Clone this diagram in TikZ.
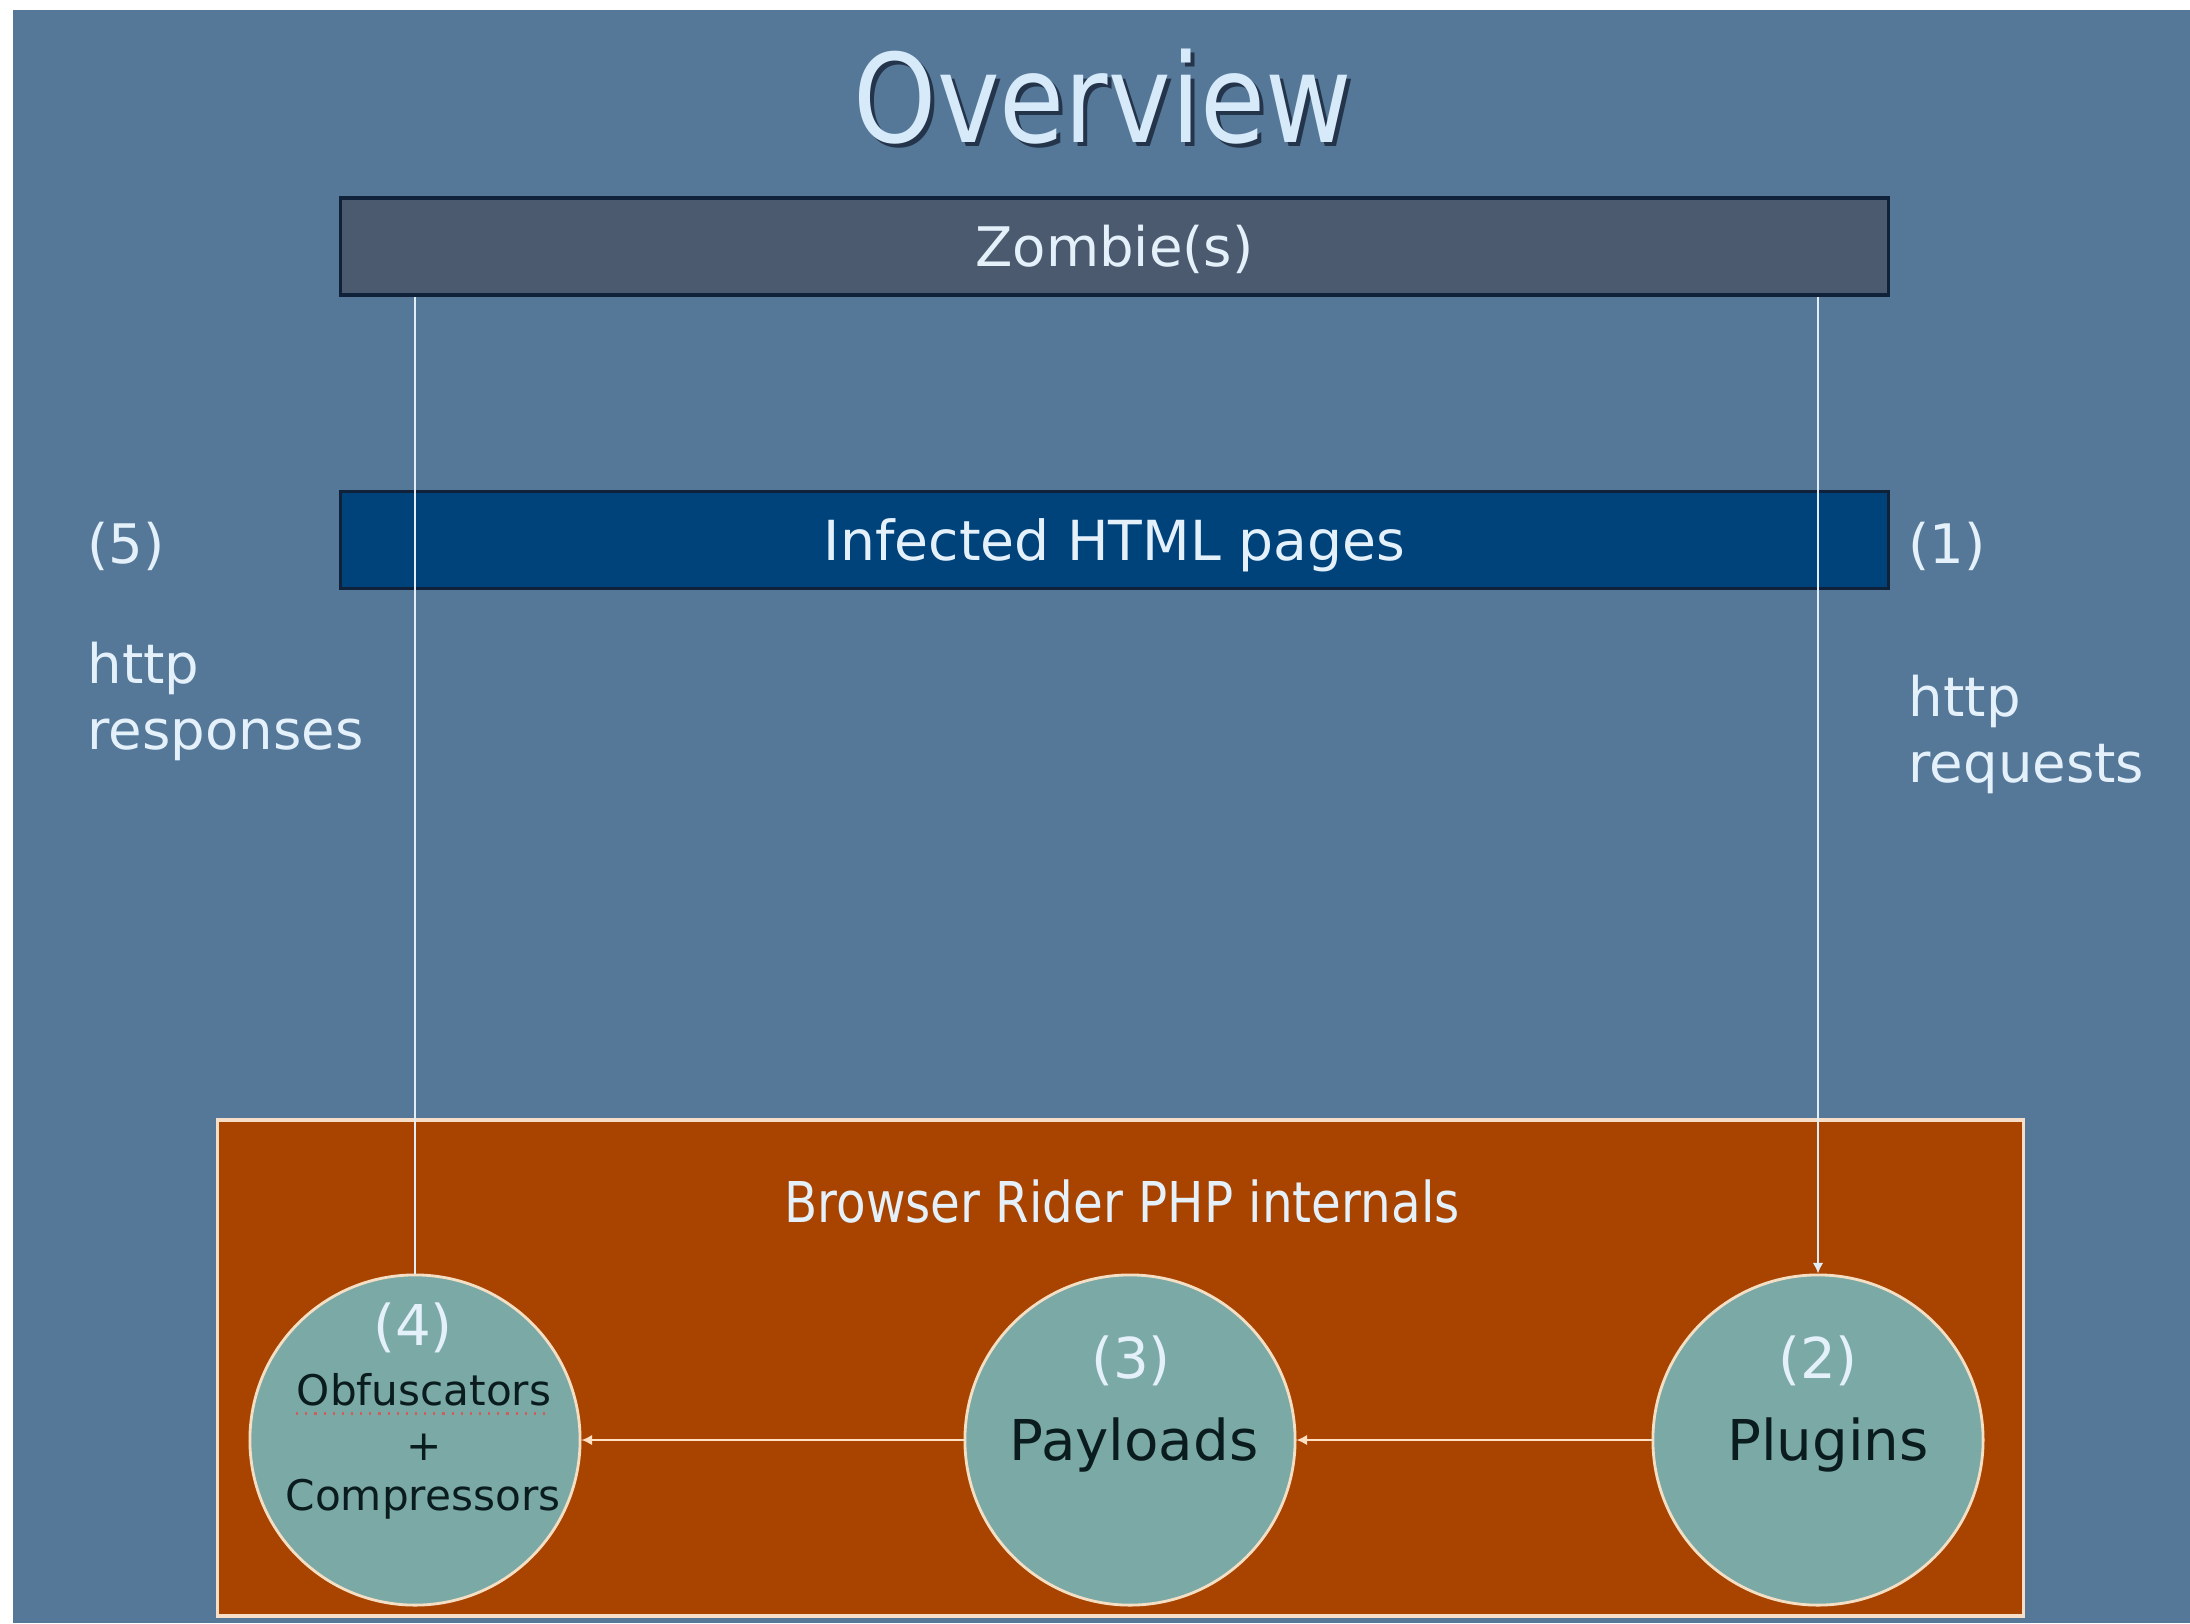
\documentclass[tikz,border=0pt]{standalone}
\usepackage{fontspec}
\setmainfont{DejaVu Sans}
\newfontfamily\narrowfont[FakeStretch=0.86]{DejaVu Sans}
\usetikzlibrary{arrows.meta}
\definecolor{SlideBlue}{RGB}{85, 120, 153}
\definecolor{ZombieGrey}{RGB}{75, 90, 111}
\definecolor{PageBlue}{RGB}{0, 66, 122}
\definecolor{BarEdge}{RGB}{16, 34, 58}
\definecolor{RiderOrange}{RGB}{169, 68, 0}
\definecolor{RiderEdge}{RGB}{246, 222, 200}
\definecolor{StageTeal}{RGB}{123, 169, 165}
\definecolor{StageEdge}{RGB}{244, 222, 196}
\definecolor{LabelWhite}{RGB}{228, 240, 250}
\definecolor{TitleWhite}{RGB}{214, 234, 250}
\definecolor{TitleShade}{RGB}{36, 52, 74}
\definecolor{StageInk}{RGB}{10, 28, 30}
\definecolor{WireWhite}{RGB}{225, 238, 250}
\definecolor{WirePeach}{RGB}{255, 224, 196}
\definecolor{SpellRed}{RGB}{205, 95, 95}

\begin{document}
\begin{tikzpicture}[x=0.01cm, y=-0.01cm,
    pagebar/.style={draw=BarEdge, line width=1pt, minimum width=15.47cm, minimum height=0.97cm,
        inner sep=0pt, text height=1.35em, text depth=0.2em, text=LabelWhite},
    sidelabel/.style={inner sep=0pt, align=left, text=LabelWhite, font=\fontsize{15.5}{19}\selectfont},
    stage/.style={circle, draw=StageEdge, fill=StageTeal, line width=0.8pt, minimum size=3.3cm, inner sep=0pt},
    stagenum/.style={anchor=base, inner sep=0pt, text=LabelWhite, font=\fontsize{16}{19}\selectfont},
    stagename/.style={anchor=base, inner sep=0pt, text=StageInk, font=\fontsize{16}{19}\selectfont},
    upline/.style={draw=WireWhite, line width=0.7pt},
    flow/.style={draw=WirePeach, line width=0.7pt, -{Latex[length=3pt, width=3pt]}}]
    \useasboundingbox (0,0) rectangle (2190,1623);
    \fill[white] (0,0) rectangle (2190,1623);
    \fill[SlideBlue] (13,10) rectangle (2190,1623);

    \node[anchor=base, inner sep=0pt, text=TitleShade, font=\narrowfont\fontsize{35}{40}\selectfont] (titleshade) at (1107,146) {Overview};
    \node[anchor=base, inner sep=0pt, text=TitleWhite, font=\narrowfont\fontsize{35}{40}\selectfont] (title) at (1103,142) {Overview};

    \node[pagebar, fill=ZombieGrey, font=\fontsize{15.5}{18}\selectfont] (zombie) at (1114.5,246.5) {Zombie(s)};
    \node[pagebar, fill=PageBlue, font=\fontsize{15.7}{19}\selectfont] (pages) at (1114.5,540) {Infected HTML pages};

    \node[sidelabel, anchor=base west] (step5) at (87,563) {(5)};
    \node[sidelabel, anchor=north west] (resp) at (87,641) {http\\responses};
    \node[sidelabel, anchor=base west] (step1) at (1908,563) {(1)};
    \node[sidelabel, anchor=north west] (req) at (1908,674) {http\\requests};

    \node[draw=RiderEdge, fill=RiderOrange, line width=1.1pt, minimum width=18.05cm, minimum height=4.96cm, inner sep=0pt] (rider) at (1120.5,1368) {};
    \node[anchor=base, inner sep=0pt, text=LabelWhite, font=\narrowfont\fontsize{16}{19}\selectfont] (ridertitle) at (1122,1222) {Browser Rider PHP internals};

    \node[stage] (obf) at (415,1440) {};
    \node[stage] (pay) at (1130,1440) {};
    \node[stage] (plug) at (1818,1440) {};

    \node[stagenum] (num4) at (413,1345) {(4)};
    \node[stagename, font=\fontsize{12}{14}\selectfont] (obfname) at (424,1405) {Obfuscators};
    \node[stagename, font=\fontsize{12}{14}\selectfont] (plus) at (424,1460) {+};
    \node[stagename, font=\fontsize{12}{14}\selectfont] (compname) at (423,1510) {Compressors};
    \node[stagenum] (num3) at (1131,1378) {(3)};
    \node[stagename] (payname) at (1134,1460) {Payloads};
    \node[stagenum] (num2) at (1818,1378) {(2)};
    \node[stagename] (plugname) at (1828,1460) {Plugins};
    \draw[SpellRed, dotted, line width=0.6pt] ([yshift=-2.4pt]obfname.base west) -- ([yshift=-2.4pt]obfname.base east);

    \draw[upline] (obf.north) -- (obf.north |- zombie.south);
    \draw[upline, -{Latex[length=3pt, width=3pt]}] (plug.north |- zombie.south) -- (plug.north);
    \draw[flow] (plug.west) -- (pay.east);
    \draw[flow] (pay.west) -- (obf.east);
\end{tikzpicture}
\end{document}
